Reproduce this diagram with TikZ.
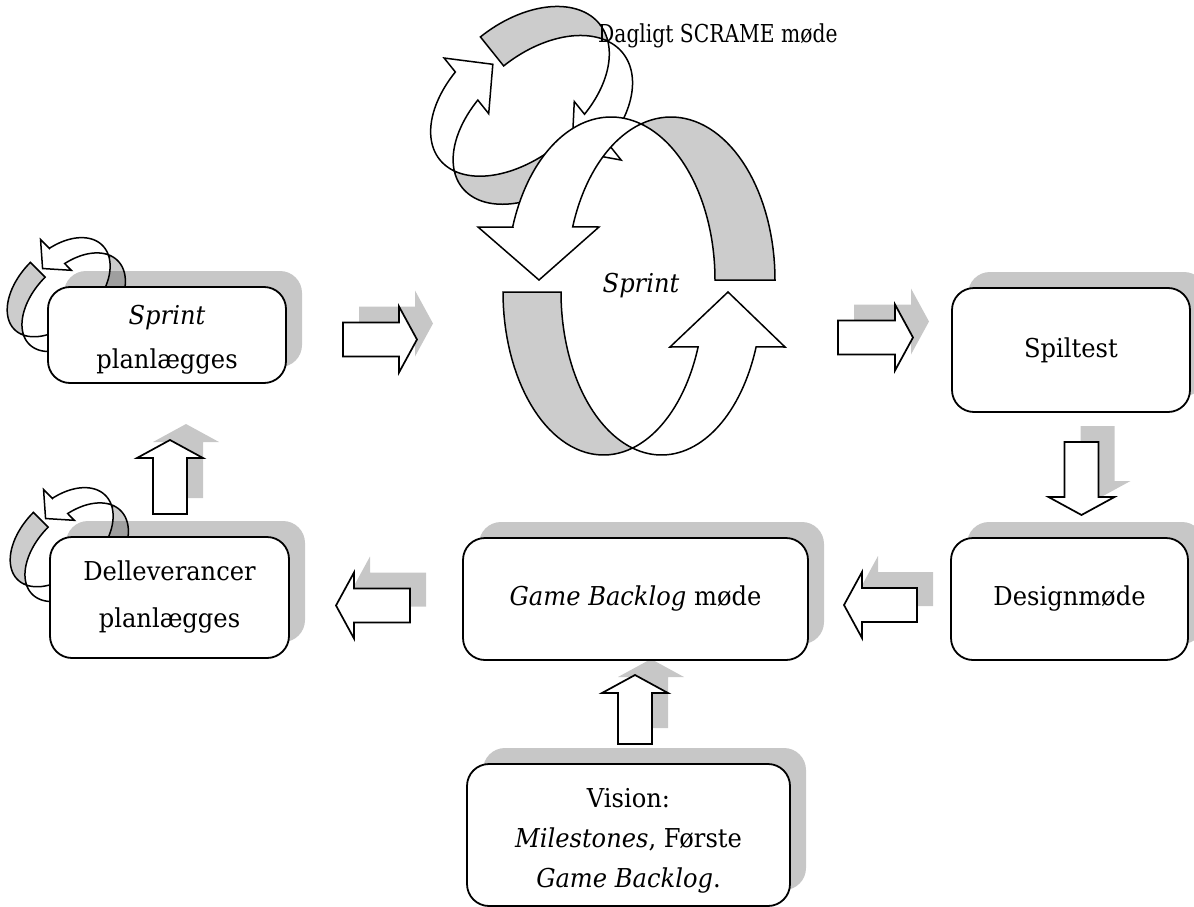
\documentclass[tikz,border=0pt]{standalone}
\usepackage{fontspec}
\setmainfont{DejaVu Serif}[FakeStretch=0.93]
\newfontfamily\labelfont{DejaVu Serif}[FakeStretch=0.82]
\usetikzlibrary{shadows}
\definecolor{backgray}{RGB}{204,204,204}

% Two curved band arrows forming a cycle; each band is the region between
% two equal half-ellipses shifted sideways, so it shows a grey back part
% and a white front part ending in an arrow head.
\newcommand\cyclearrows{%
  \filldraw[backpart]
    plot[domain=253.23:360,samples=40] ({34+104*cos(\x)},{-6+163*sin(\x)})
    -- plot[domain=360:286.77,samples=40] ({-26+104*cos(\x)},{-6+163*sin(\x)}) -- cycle;
  \filldraw[frontpart] (-124.3,-59)
    -- plot[domain=199:286.77,samples=40] ({-26+104*cos(\x)},{-6+163*sin(\x)})
    -- plot[domain=253.23:199,samples=40] ({34+104*cos(\x)},{-6+163*sin(\x)})
    -- (-38,-59) -- (-98,-6) -- (-159,-59) -- cycle;
  \filldraw[backpart]
    plot[domain=180:73.23,samples=40] ({-33.5+100.5*cos(\x)},{6+163*sin(\x)})
    -- plot[domain=106.77:180,samples=40] ({24.5+100.5*cos(\x)},{6+163*sin(\x)}) -- cycle;
  \filldraw[frontpart]
    plot[domain=106.77:19.7,samples=40] ({24.5+100.5*cos(\x)},{6+163*sin(\x)})
    -- (148,61) -- (91,6) -- (33,61)
    -- plot[domain=19.7:73.23,samples=40] ({-33.5+100.5*cos(\x)},{6+163*sin(\x)}) -- cycle;
}

% Straight block arrow pointing along +x, tail centred at the origin
\newcommand\barrowpath[1]{(0,-17) -- (#1,-17) -- (#1,-33) -- ({#1+18},0) -- (#1,33) -- (#1,17) -- (0,17) -- cycle}
\newcommand\blockarrow[3]{%
  \fill[arrowshadow, shift={#1}, shift={(16,-16)}, rotate=#2] \barrowpath{#3};
  \draw[arrowbody, shift={#1}, rotate=#2] \barrowpath{#3};}

\tikzset{
  outline/.style={draw=black, line width=1.5pt, line join=miter},
  backpart/.style={outline, fill=backgray},
  frontpart/.style={outline, fill=white},
  arrowshadow/.style={fill=black, opacity=0.22},
  arrowbody/.style={outline, line width=1.7pt, fill=white},
  box/.style={draw=black, line width=1.8pt, fill=white, rounded corners=22pt,
    align=center, inner sep=0pt,
    font=\fontsize{26}{44}\selectfont,
    general shadow={shadow xshift=16pt, shadow yshift=16pt, fill=black, opacity=0.22}},
  boxtext/.style={align=center, inner sep=0pt, font=\fontsize{26}{44}\selectfont},
}

\begin{document}
\begin{tikzpicture}[x=1pt,y=-1pt]
\useasboundingbox (0,0) rectangle (1194,907);

% small loops at the planning boxes
\begin{scope}[shift={(66,295)}, rotate=-45, scale=0.36]
  \cyclearrows
\end{scope}
\begin{scope}[shift={(69,545)}, rotate=-45, scale=0.36]
  \cyclearrows
\end{scope}

% daily meeting cycle
\begin{scope}[shift={(531,106)}, rotate=-51.3, xscale=-1, scale=0.62]
  \cyclearrows
\end{scope}

% sprint cycle
\begin{scope}[shift={(637,286)}]
  \cyclearrows
\end{scope}

\node[font=\labelfont\fontsize{24.7}{28}\selectfont, anchor=base west, inner sep=0pt] (daily) at (598,43) {Dagligt SCRAME møde};
\node[font=\fontsize{26}{30}\selectfont\itshape, anchor=base, inner sep=0pt] (sprintlabel) at (641,292) {Sprint};

% process steps
\node[box, minimum width=238pt, minimum height=96pt] (sp) at (167,335) {};
\node[boxtext] (sptext) at ([yshift=-5pt]sp.center) {\textit{Sprint}\\planlægges};
\node[box, minimum width=239pt, minimum height=121pt, font=\fontsize{26}{47}\selectfont] (dl) at (169.5,597.5) {Delleverancer\\planlægges};
\node[box, minimum width=345pt, minimum height=122pt] (gb) at (635.5,599) {\textit{Game Backlog} møde};
\node[box, minimum width=238pt, minimum height=124pt] (st) at (1071,350) {Spiltest};
\node[box, minimum width=237pt, minimum height=122pt] (dm) at (1069.5,599) {Designmøde};
\node[box, minimum width=323pt, minimum height=142pt] (vi) at (628.5,835) {};
\node[boxtext, font=\fontsize{26}{40}\selectfont] (vitext) at ([yshift=-6pt]vi.center) {Vision:\\\textit{Milestones}, Første\\\textit{Game Backlog}.};

% block arrows between the steps
\blockarrow{(343,339.5)}{0}{56}
\blockarrow{(838,337.5)}{0}{57}
\blockarrow{(1081.5,442)}{-90}{55}
\blockarrow{(917,605)}{180}{55}
\blockarrow{(410,605.5)}{180}{56}
\blockarrow{(170,514)}{90}{56}
\blockarrow{(635,744)}{90}{51}
\end{tikzpicture}
\end{document}
